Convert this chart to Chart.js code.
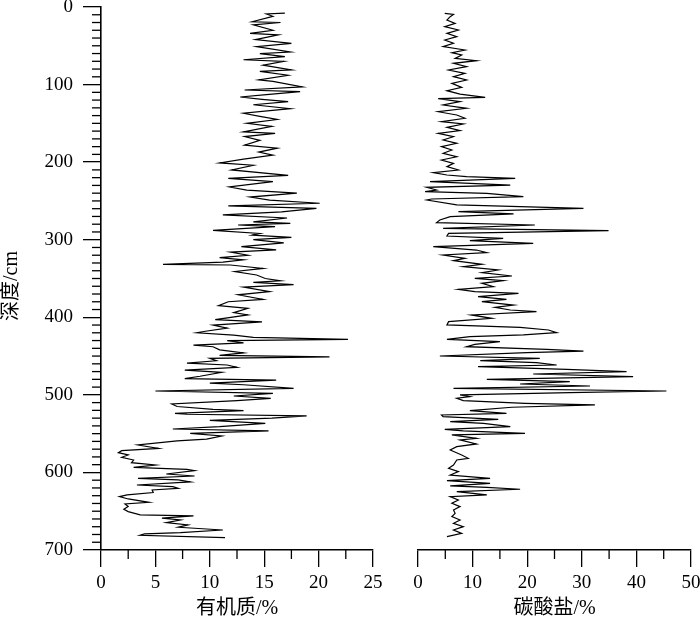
<!DOCTYPE html>
<html><head><meta charset="utf-8">
<script src="https://cdn.jsdelivr.net/npm/chart.js@4.4.0/dist/chart.umd.min.js"></script>
<style>
html,body{margin:0;padding:0;background:#fff;overflow:hidden;width:700px;height:621px;}
#a{position:absolute;left:0;top:0;}
#b{position:absolute;left:390px;top:0;}
</style></head><body>
<canvas id="a" width="400" height="621"></canvas>
<canvas id="b" width="330" height="621"></canvas>
<script>
// ---- data ----
const omDepth = [8,9,12,19,20,23,30,34,36,42,47,51,58,60,64,68,70,75,81,83,88,94,96,103,107,109,113,116,119,122,126,131,137,141,145,150,154,161,163,167,172,178,182,187,191,196,201,204,210,217,221,225,232,236,240,245,249,
253,256.5,259.5,264,268,272,277,279,281,283,288,292,294,297,300,304,309,313,316,320,323,326,329,331.7,332.6,337,341,345.5,350,353,355,358,361,367,371,377,380,385,388.5,394,397,403,406,410,414,418,420,423,426,428.4,430,433,436,438,442,446,449,451,453,456,459,461.5,464.5,468,471,476,479,481,485,487,491.6,495,498,501.5,504.5,507.4,511.7,515,518.6,520.3,523.8,525,527.2,530,533,536.7,541,544,546.5,549.6,553,557,559.4,564.6,569,572,574.5,577.5,580.5,584,587.4,590.4,593.4,596,597.7,602,604.6,607.6,609.7,612.3,616.2,618.3,620.5,622.6,626,629,631.2,634.2,638.5,640.6,644,647.5,650.5,654.8,656,659,661.3,664.7,667.7,670.7,674.2,677.6,679.3,681,684];
const omValue = [16.9,15.2,15.8,13.9,16.5,14.0,15.8,13.7,16.3,14.2,17.5,14.3,17.4,14.6,16.9,13.1,16.8,14.9,17.5,14.6,17.2,14.5,15.8,18.5,13.2,18.3,15.2,12.8,14.8,17.2,14.0,17.4,13.1,14.6,16.2,13.4,15.7,13.1,16.0,13.2,14.6,13.2,16.2,14.5,15.8,13.1,10.9,14.0,12.0,17.2,11.7,15.8,11.8,13.4,18.0,13.7,15.5,
20.1,11.7,19.8,16.6,11.2,17.1,14.0,17.4,12.6,16.0,10.3,14.6,13.9,17.5,14.0,16.8,12.9,16.1,11.9,13.5,10.9,13.1,11.2,5.7,11.9,14.9,12.3,14.3,15.1,16.5,14.0,17.7,13.1,15.5,12.6,14.9,11.7,10.8,13.5,12.2,13.5,10.5,14.8,10.3,11.6,9.6,8.8,12.2,14.0,22.7,11.6,13.1,8.5,10.3,10.9,13.1,10.9,21.0,10.0,10.6,7.9,11.6,12.5,7.7,11.1,9.1,7.7,16.1,10.0,13.1,17.7,5.0,15.8,12.2,15.6,12.5,6.5,7.0,10.3,13.1,6.8,7.9,18.9,15.7,10.0,15.1,10.9,6.6,15.4,8.2,11.1,9.7,7.0,3.4,5.3,1.9,1.6,2.5,1.9,3.0,2.8,5.0,3.0,7.9,8.6,6.0,8.6,3.4,7.1,8.2,3.3,6.6,7.1,4.7,4.8,2.4,1.7,2.5,4.4,2.2,2.5,2.1,2.5,3.6,8.5,5.6,7.3,6.0,8.0,7.1,11.2,7.3,4.0,3.6,11.4];

const cbDepth = [8.2,9.5,12.5,16.8,21.1,25.4,29.6,34,38.2,42.5,46.8,51.1,55.4,58.9,61.9,66.2,69.2,72.6,76.9,81.2,85.5,89.8,94.1,98.4,103.6,107.9,112.2,116.5,118.2,122,126.3,130.6,135,139.2,143.5,147.8,150.8,155.1,159.4,162.9,167.2,171.5,175.7,180,184.4,188.6,193,197.2,201.5,205.8,210.1,213.6,216.6,218.7,221,225.2,229.5,232.5,235.9,238.1,240.2,244.5,247.5,248.8,255.2,259.5,263.8,266.8,270.3,274.6,278,281,285.3,288.3,291.8,295.2,298.2,301.2,304.7,309,313.3,316.7,319.7,324,327,331.7,334.7,339,342.5,346.8,349.8,352.8,356.2,360.5,364,367,369.1,373.4,376.9,379.9,384.2,387.2,390.6,392.8,397,401.3,405.6,409.9,412.9,416.4,419.8,422.8,425,428.4,431.4,434.9,437.9,441.3,443.5,445.6,449.9,452.9,455.9,458.5,461.5,463.7,467.1,470.1,473.1,476.5,480,483,486,488.6,491.6,495,497.2,500.1,502.3,504.4,507.4,510.9,513,516,520.3,523.8,525.9,528.1,531.5,534.5,536.7,541,544.4,546.5,549.6,551.7,556,558.1,563.3,566.7,571,577.5,581.8,583.9,590.4,594.7,599,603.3,607.6,610.6,614,617.4,619.2,621.7,624.8,629,631.2,635.5,639.8,644.1,648.4,652.7,657,661.3,665.6,669.9,674.2,678.5,682.8];
const cbValue = [4.9,6.5,5.9,5.3,6.8,4.9,7.4,5.3,7.1,4.9,6.5,4.6,8.6,6.2,8.0,6.8,10.7,6.5,8.9,5.6,8.6,6.5,8.9,6.2,8.0,5.3,7.7,12.3,3.7,7.7,4.6,8.9,3.7,7.1,8.6,4.3,8.3,5.3,7.7,3.7,6.5,4.6,7.1,4.3,6.2,4.6,7.1,4.3,6.5,5.3,7.4,2.8,5.3,8.9,17.8,2.2,16.9,1.6,3.4,1.3,12.6,19.3,2.5,1.6,7.1,30.3,7.4,17.5,5.9,4.0,3.4,21.4,4.6,34.9,5.6,5.3,15.6,9.5,21.1,2.8,10.7,12.6,4.6,8.6,6.5,11.7,8.3,14.7,11.7,17.2,10.4,15.6,11.7,13.8,7.4,10.4,18.4,11.0,16.2,11.7,17.5,14.1,16.9,21.7,9.8,13.5,5.6,5.3,18.7,23.9,25.4,19.3,9.5,5.3,15.0,10.4,8.9,23.6,30.3,19.9,4.0,22.3,11.4,21.7,25.4,11.0,27.2,38.2,21.1,39.4,12.6,27.8,18.7,31.5,6.5,45.5,27.8,7.7,9.5,7.1,8.3,19.6,32.4,17.2,9.5,16.2,4.3,4.6,14.7,5.9,12.0,16.9,4.9,8.3,19.6,6.2,10.7,7.7,10.7,7.1,5.9,8.0,9.2,7.1,6.5,5.6,7.4,5.9,13.2,5.3,13.2,5.9,12.6,18.7,7.1,12.6,5.9,7.4,6.2,7.7,6.5,6.8,6.2,7.7,6.5,8.3,6.5,8.0,5.3];

const omTicks = [0,5,10,15,20,25];
const cbTicks = [0,10,20,30,40,50];
const depthTicks = [0,100,200,300,400,500,600,700];
const omMinor = [2.5,7.5,12.5,17.5,22.5];
const cbMinor = [5,15,25,35,45];
const depthMinor = [];
for (let d = 10; d < 700; d += 10) if (d % 100) depthMinor.push(d);

// ---- styles ----
const FAM = "'Liberation Serif','Times New Roman','Noto Sans CJK SC',serif";
const tickFont = {family: FAM, size: 19, lineHeight: 0.5};
const titleFont = {family: FAM, size: 20, lineHeight: 1.2};

function noPad(s) { s.paddingTop = 0; s.paddingBottom = 0; s.paddingLeft = 0; s.paddingRight = 0; }

const minorTicks = {
  id: 'minorTicks',
  afterDraw(chart, args, opts) {
    const ctx = chart.ctx;
    ctx.save();
    ctx.strokeStyle = '#000';
    ctx.lineWidth = 1.3;
    const xs = chart.scales.x, ys = chart.scales.y;
    (opts.y || []).forEach(v => {
      const p = ys.getPixelForValue(v);
      ctx.beginPath(); ctx.moveTo(ys.right - 9, p); ctx.lineTo(ys.right, p); ctx.stroke();
    });
    (opts.x || []).forEach(v => {
      const p = xs.getPixelForValue(v);
      ctx.beginPath(); ctx.moveTo(p, xs.top); ctx.lineTo(p, xs.top + 9); ctx.stroke();
    });
    ctx.restore();
  }
};

function makeX(min, max, ticksArr, title) {
  return {
    type: 'linear', position: 'bottom', min, max,
    afterBuildTicks(s) { s.ticks = ticksArr.map(v => ({value: v})); },
    ticks: {color: '#000', font: tickFont, padding: 11, maxRotation: 0, autoSkip: false},
    grid: {display: true, drawOnChartArea: false, drawTicks: true, tickLength: 17, color: '#000', lineWidth: 1.3},
    border: {display: true, color: '#000', width: 1.6},
    title: {display: true, text: title, color: '#000', font: titleFont, padding: {top: 0, bottom: 0}},
    afterFit(s) { s.height = 71; noPad(s); }
  };
}

function series(depths, values) {
  return depths.map((d, i) => ({x: values[i], y: d}));
}

const common = {
  responsive: false, animation: false,
  plugins: {legend: {display: false}, tooltip: {enabled: false}},
  elements: {point: {radius: 0}, line: {tension: 0}}
};

new Chart(document.getElementById('a'), {
  type: 'scatter',
  data: {datasets: [{data: series(omDepth, omValue), showLine: true, borderColor: '#000', borderWidth: 1.2, pointRadius: 0}]},
  options: Object.assign({}, common, {
    layout: {padding: {top: 7, left: 0, right: 27, bottom: 0}},
    plugins: Object.assign({}, common.plugins, {minorTicks: {x: omMinor, y: depthMinor}}),
    scales: {
      x: makeX(0, 25, omTicks, '有机质/%'),
      y: {
        type: 'linear', min: 0, max: 700, reverse: true,
        afterBuildTicks(s) { s.ticks = depthTicks.map(v => ({value: v})); },
        ticks: {color: '#000', font: tickFont, padding: 10, autoSkip: false},
        grid: {display: true, drawOnChartArea: false, drawTicks: true, tickLength: 18, color: '#000', lineWidth: 1.3},
        border: {display: true, color: '#000', width: 1.6},
        title: {display: true, text: '深度/cm   ', color: '#000', font: titleFont, padding: {top: 0, bottom: 0}},
        afterFit(s) { s.width = 101; noPad(s); }
      }
    }
  }),
  plugins: [minorTicks]
});

new Chart(document.getElementById('b'), {
  type: 'scatter',
  data: {datasets: [{data: series(cbDepth, cbValue), showLine: true, borderColor: '#000', borderWidth: 1.2, pointRadius: 0}]},
  options: Object.assign({}, common, {
    layout: {padding: {top: 7, left: 28, right: 29, bottom: 0}},
    plugins: Object.assign({}, common.plugins, {minorTicks: {x: cbMinor}}),
    scales: {
      x: makeX(0, 50, cbTicks, '碳酸盐/%'),
      y: {type: 'linear', min: 0, max: 700, reverse: true, display: false}
    }
  }),
  plugins: [minorTicks]
});
</script>
</body></html>
